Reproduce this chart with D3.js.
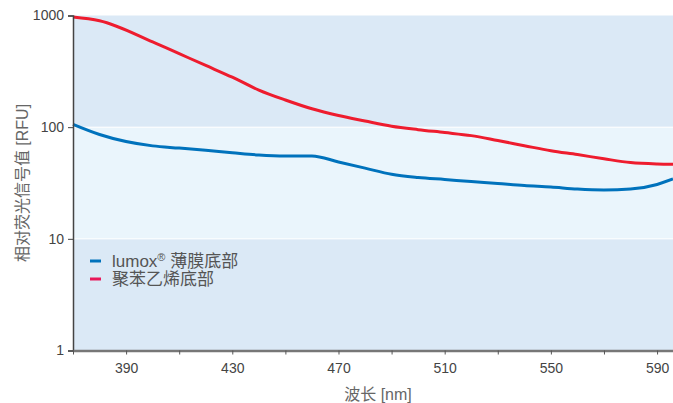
<!DOCTYPE html>
<html>
<head>
<meta charset="utf-8">
<script src="https://cdn.jsdelivr.net/npm/d3@7"></script>
<style>
  body { margin: 0; background: #fff; }
  text { font-family: "Liberation Sans Narrow", "Liberation Sans", "Noto Sans CJK SC", sans-serif; }
</style>
</head>
<body>
<div id="chart"></div>
<script>
/*wavelengths (nm)*/
var wavelengths = [370, 380, 400, 410, 420, 430, 440, 450, 460, 470, 480, 490, 500, 510, 520, 530, 540, 550, 560, 570, 580, 590, 596];
/*relative fluorescence, lumox film bottom*/
var lumoxValues = [106, 86, 68, 65, 62, 59, 56.3, 55.2, 55.2, 48.8, 43, 37.8, 35.4, 34, 32.6, 31.3, 30, 29.1, 27.9, 27.4, 27.9, 30.7, 34.4];
/*relative fluorescence, polystyrene bottom*/
var psValues = [970, 898, 580, 455, 357, 280, 215, 175, 146, 127, 113.5, 102, 95, 89.5, 84, 75.9, 68.3, 61.5, 56.8, 52.1, 48.2, 46.8, 46.5];

var seriesNames = ["lumox® 薄膜底部", "聚苯乙烯底部"];
var xTicks = [370, 390, 410, 430, 450, 470, 490, 510, 530, 550, 570, 590];
var xLabels = [390, 430, 470, 510, 550, 590];
var yTicks = [1, 10, 100, 1000];
var bands = [[100, 1000], [10, 100], [1, 10]];

var svgWidth = 673, svgHeight = 403;
var margin = {top: 15.5, right: 0, bottom: 52.5, left: 73};
var width = svgWidth - margin.left - margin.right;
var height = svgHeight - margin.top - margin.bottom;

var svg = d3.select("#chart").append("svg")
  .attr("width", svgWidth)
  .attr("height", svgHeight);

var g = svg.append("g")
  .attr("transform", `translate(${margin.left},${margin.top})`);

var xScale = d3.scaleLinear().domain([370, 596]).range([0, width]);
var yScale = d3.scaleLog().domain([1, 1000]).range([height, 0]);

/*background bands per decade*/
var bandColors = ["#dbe9f6", "#eaf5fc", "#dbe9f6"];
g.selectAll(".band")
  .data(bands)
  .enter().append("rect")
  .attr("class", "band")
  .attr("x", 0)
  .attr("width", width)
  .attr("y", d => yScale(d[1]))
  .attr("height", d => yScale(d[0]) - yScale(d[1]))
  .attr("fill", (d, i) => bandColors[i]);

g.selectAll(".bandline")
  .data([10, 100])
  .enter().append("line")
  .attr("x1", 0).attr("x2", width)
  .attr("y1", d => yScale(d)).attr("y2", d => yScale(d))
  .attr("stroke", "#fff").attr("stroke-width", 1);

/*lines*/
var colors = ["#0072bc", "#ee1c2e"];
var line = d3.line()
  .x((d, i) => xScale(wavelengths[i]))
  .y(d => yScale(d))
  .curve(d3.curveMonotoneX);

[lumoxValues, psValues].forEach(function(vals, i) {
  g.append("path")
    .datum(vals)
    .attr("fill", "none")
    .attr("stroke", colors[i])
    .attr("stroke-width", 3)
    .attr("d", line);
});

/*y axis*/
var leftAxis = d3.axisLeft(yScale).tickValues(yTicks).tickFormat(d3.format("d")).tickSize(5).tickPadding(4);
var yAxis = g.append("g").call(leftAxis);
yAxis.select(".domain").attr("stroke", "#444").attr("stroke-width", 1.5);
yAxis.selectAll(".tick line").attr("stroke", "#444");
yAxis.selectAll("text").attr("fill", "#444").style("font-size", "14px");

/*x axis*/
var bottomAxis = d3.axisBottom(xScale).tickValues(xTicks)
  .tickFormat(d => xLabels.indexOf(d) >= 0 ? d : "")
  .tickSize(4).tickSizeOuter(0).tickPadding(9);
var xAxis = g.append("g")
  .attr("transform", `translate(0,${height})`)
  .call(bottomAxis);
xAxis.select(".domain").attr("stroke", "#777").attr("stroke-width", 2.5);
xAxis.selectAll(".tick line").attr("stroke", "#555");
xAxis.selectAll("text").attr("fill", "#444").style("font-size", "14px");

/*axis labels*/
svg.append("text")
  .attr("x", 378).attr("y", 400)
  .attr("text-anchor", "middle")
  .attr("fill", "#666")
  .style("font-size", "16px")
  .text("波长 [nm]");

svg.append("text")
  .attr("transform", "translate(28,183) rotate(-90)")
  .attr("text-anchor", "middle")
  .attr("fill", "#666")
  .style("font-size", "16px")
  .text("相对荧光信号值 [RFU]");

/*legend*/
var legend = svg.append("g").attr("transform", "translate(90,261)");
seriesNames.forEach(function(name, i) {
  legend.append("line")
    .attr("x1", 0).attr("x2", 11)
    .attr("y1", i * 18).attr("y2", i * 18)
    .attr("stroke", i === 0 ? "#0072bc" : "#e8185a")
    .attr("stroke-width", 3);
  var t = legend.append("text")
    .attr("x", 22).attr("y", i * 18 + 6)
    .attr("fill", "#555")
    .style("font-size", "17px");
  if (i === 0) {
    t.append("tspan").text("lumox");
    t.append("tspan").attr("dy", -6).style("font-size", "11px").text("®");
    t.append("tspan").attr("dy", 6).text(" 薄膜底部");
  } else {
    t.text(name);
  }
});
</script>
</body>
</html>
